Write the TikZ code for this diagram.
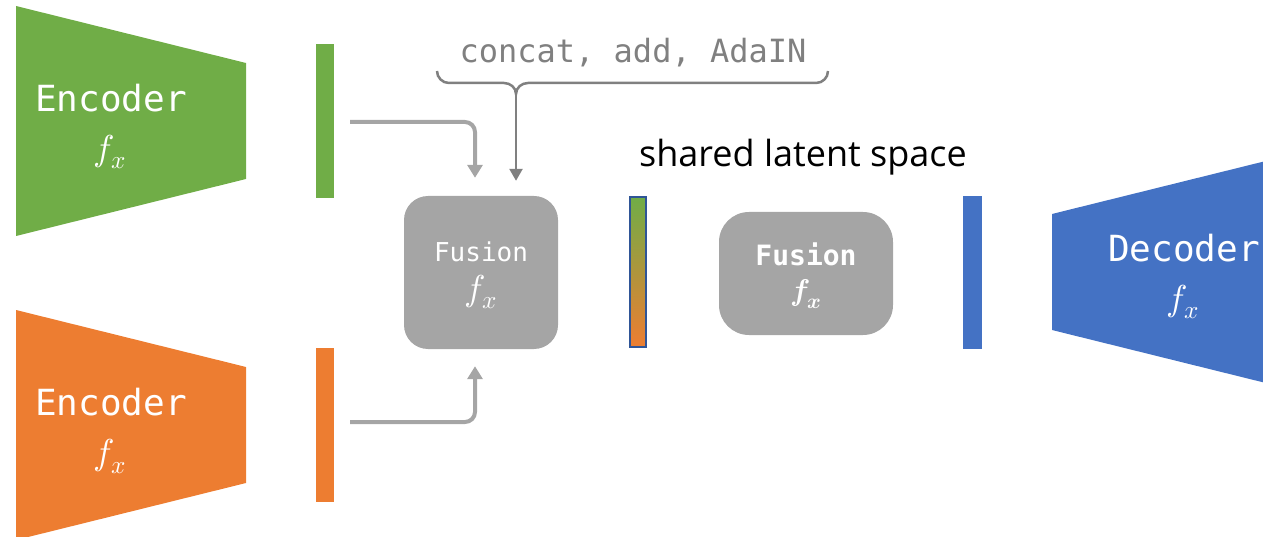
\documentclass[tikz,border=0pt]{standalone}
\usepackage{unicode-math}
\setmathfont{Latin Modern Math}
\setmonofont{DejaVu Sans Mono}
\newfontfamily\opensans{Open Sans}
\usetikzlibrary{arrows.meta}
\definecolor{cgreen}{HTML}{70AD47}
\definecolor{corange}{HTML}{ED7D31}
\definecolor{cblue}{HTML}{4472C4}
\definecolor{cgray}{HTML}{A5A5A5}
\definecolor{cdgray}{HTML}{808080}
\definecolor{cborder}{HTML}{2F5597}
\tikzset{
  bar/.style={inner sep=0pt, minimum width=18pt, minimum height=154pt, draw=none},
  fusbox/.style={fill=cgray, rounded corners=24pt, inner sep=0pt},
  lbl/.style={text=white, inner sep=0pt},
  bigtt/.style={lbl, font=\ttfamily\fontsize{36}{40}\selectfont},
  mathlbl/.style={lbl, font=\fontsize{36}{40}\selectfont},
  arr/.style={draw=cgray, line width=4pt, rounded corners=10pt, -{Triangle[length=13pt,width=15pt]}},
  darr/.style={draw=cdgray, line width=2.5pt, -{Triangle[length=12pt,width=13pt]}},
}
\begin{document}
\begin{tikzpicture}[x=1pt,y=-1pt]
\useasboundingbox (0,0) rectangle (1263,537);
% encoders
\fill[cgreen] (16,6) -- (246,63) -- (246,179) -- (16,236) -- cycle;
\node[bigtt] (enc1) at (111,98) {Encoder};
\node[mathlbl] (enc1f) at (110,152) {$f_x$};
\fill[corange] (16,310) -- (246,367) -- (246,483) -- (16,540) -- cycle;
\node[bigtt] (enc2) at (111,402) {Encoder};
\node[mathlbl] (enc2f) at (110,456) {$f_x$};
% bars
\node[bar, fill=cgreen] (gbar) at (325,121) {};
\node[bar, fill=corange] (obar) at (325,425) {};
% fusion box 1
\node[fusbox, minimum width=154pt, minimum height=153pt] (fus1) at (481,272.5) {};
\node[lbl, font=\ttfamily\fontsize{26}{30}\selectfont] (fus1t) at (481,252) {Fusion};
\node[mathlbl] (fus1f) at (481,292) {$f_x$};
% arrows
\draw[arr] ([xshift=16pt,yshift=-1pt]gbar.east) -| ([xshift=-6pt,yshift=18pt]fus1.north);
\draw[arr] ([xshift=16pt,yshift=3pt]obar.east) -| ([xshift=-6pt,yshift=-17pt]fus1.south);
% brace
\node[font=\ttfamily\fontsize{32}{36}\selectfont, text=cdgray, inner sep=0pt] (ops) at (633,53) {concat, add, AdaIN};
\coordinate (bmid) at (516,94);
\draw[cdgray, line width=2.5pt] (437,71) to[out=-90,in=180] (449,83) -- (504,83) to[out=0,in=90] (bmid) to[out=90,in=180] (528,83) -- (816,83) to[out=0,in=-90] (828,71);
\draw[darr] (bmid) -- ([xshift=35pt,yshift=15pt]fus1.north);
% shared latent
\node[font=\opensans\fontsize{36}{40}\selectfont, inner sep=0pt] (shared) at (803,157) {shared latent space};
\node[bar, top color=cgreen, bottom color=corange, draw=cborder, line width=2pt, minimum width=16pt, minimum height=150pt] (lat) at (638,272) {};
% fusion box 2
\node[fusbox, rounded corners=30pt, minimum width=174pt, minimum height=123pt] (fus2) at (806,273.5) {};
\node[lbl, font=\ttfamily\bfseries\fontsize{28}{30}\selectfont] (fus2t) at (806,254) {Fusion};
\node[lbl, font=\fontsize{30}{34}\selectfont] (fus2f) at (806,294) {$\symbfit{f}_{\symbfit{x}}$};
% blue bar
\node[bar, fill=cblue, minimum width=19pt, minimum height=153pt] (bbar) at (972.5,272.5) {};
% decoder
\fill[cblue] (1052,214) -- (1263,161.7) -- (1263,382.3) -- (1052,330) -- cycle;
\node[bigtt, anchor=west] (dec) at (1108,248) {Decoder};
\node[mathlbl] (decf) at (1183,302) {$f_x$};
\end{tikzpicture}
\end{document}
